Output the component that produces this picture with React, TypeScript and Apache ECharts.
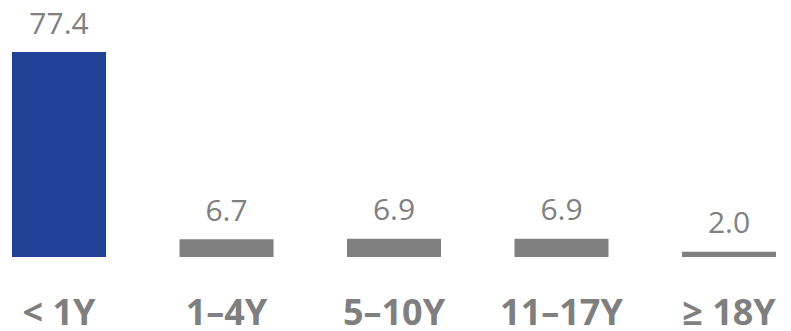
import React, { useEffect, useRef } from "react";
import * as echarts from "echarts";

const categories = ["< 1Y", "1–4Y", "5–10Y", "11–17Y", "≥ 18Y"];
const values = [77.4, 6.7, 6.9, 6.9, 2.0];
const barColors = ["#1F4196", "#808080", "#808080", "#808080", "#808080"];

export default function App() {
  const ref = useRef<HTMLDivElement>(null);
  useEffect(() => {
    if (!ref.current) return;
    const chart = echarts.init(ref.current, null, { renderer: "svg" });
    chart.setOption({
      animation: false,
      grid: { left: 59, right: 62, top: 52, bottom: 74, containLabel: false },
      xAxis: {
        type: "category",
        data: categories,
        boundaryGap: false,
        axisLine: { show: false },
        axisTick: { show: false },
        axisLabel: {
          interval: 0,
          color: "#7F7F7F",
          fontFamily: "Open Sans",
          fontWeight: "bold",
          fontSize: 36,
          lineHeight: 28,
          margin: 40,
        },
      },
      yAxis: {
        type: "value",
        min: 0,
        max: 77.4,
        show: false,
        splitLine: { show: false },
      },
      series: [
        {
          type: "bar",
          barWidth: 94,
          clip: false,
          data: values.map((v, i) => ({ value: v, itemStyle: { color: barColors[i] } })),
          label: {
            show: true,
            position: "top",
            distance: 15,
            color: "#808080",
            fontFamily: "Open Sans",
            fontSize: 30,
            formatter: (p: any) => Number(p.value).toFixed(1),
          },
        },
      ],
    });
    return () => chart.dispose();
  }, []);
  return (
    <div
      ref={ref}
      style={{ position: "fixed", left: 0, top: 0, width: 791, height: 331, background: "#fff" }}
    />
  );
}
